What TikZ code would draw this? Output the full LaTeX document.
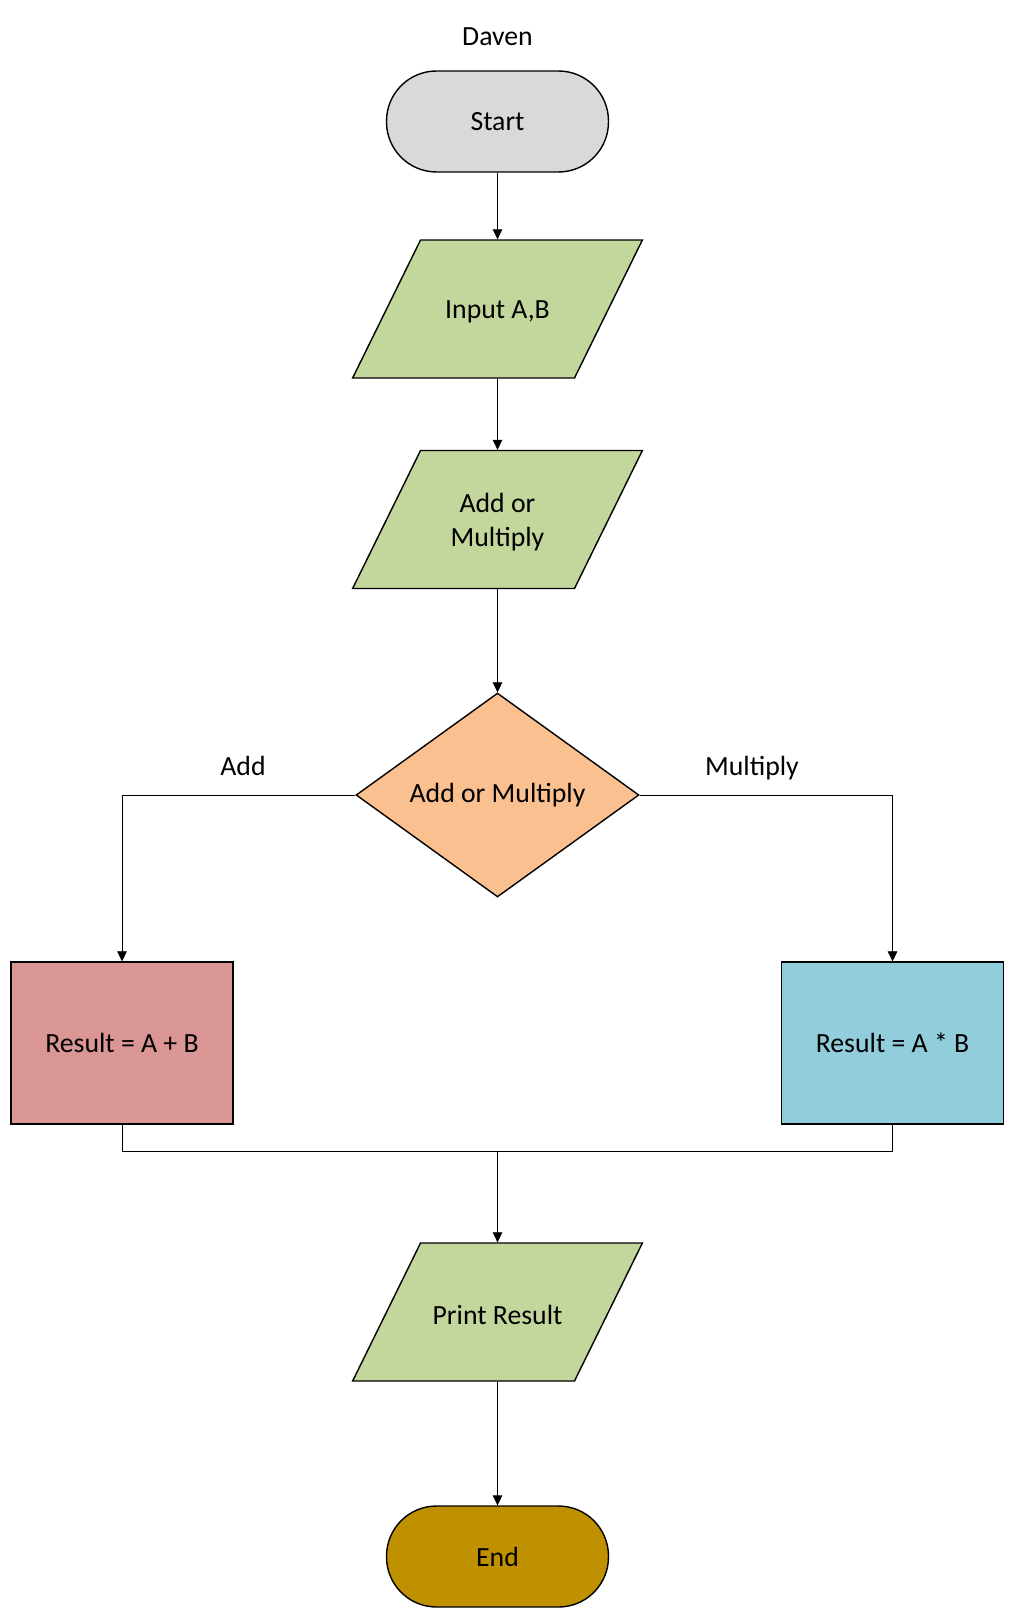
\documentclass[tikz,border=0pt]{standalone}
\usepackage{fontspec}
\setmainfont{Carlito}
\usepackage{xcolor}
\usetikzlibrary{shapes.geometric,arrows.meta}
\definecolor{startgray}{HTML}{D9D9D9}
\definecolor{iogreen}{HTML}{C3D69B}
\definecolor{choiceorange}{HTML}{FAC090}
\definecolor{addred}{HTML}{D99694}
\definecolor{mulblue}{HTML}{92CDDC}
\definecolor{endgold}{HTML}{BF9000}

\begin{document}
\begin{tikzpicture}[x=0.02cm, y=-0.02cm,
  every node/.style={font=\fontsize{15.8}{19.3}\selectfont, align=center},
  terminal/.style={draw, line width=0.8pt, rectangle, rounded corners=1cm, minimum width=4.44cm, minimum height=2.02cm},
  iobox/.style={draw, line width=0.8pt, fill=iogreen, trapezium, trapezium left angle=63.8, trapezium right angle=116.2, inner xsep=1.54cm, inner ysep=1.38cm, label={[yshift=-0.05cm]center:#1}},
  calcbox/.style={draw, line width=0.8pt, rectangle, minimum width=4.44cm, minimum height=3.24cm},
  arr/.style={line width=0.5pt, -{Triangle[length=5.7pt,width=5.5pt]}}]
\useasboundingbox (0,0) rectangle (1012,1618);
\node (title) at (497.5,37) {Daven};
\node[terminal, fill=startgray] (start) at (497.5,121.5) {Start};
\node[iobox={Input A,B}] (input) at (497.5,309) {};
\node[iobox={Add or\\Multiply}] (choose) at (497.5,519.5) {};
\node[draw, line width=0.8pt, diamond, fill=choiceorange, minimum width=5.66cm, minimum height=4.08cm, inner sep=0pt] (decide) at (497.5,795) {Add or Multiply};
\node[calcbox, fill=addred] (addres) at (122,1043) {Result = A + B};
\node[calcbox, fill=mulblue] (mulres) at (892.5,1043) {Result = A * B};
\node[iobox={Print Result}] (print) at (497.5,1312) {};
\node[terminal, fill=endgold] (finish) at (497.5,1556.5) {End};
\node[anchor=base] (addlbl) at (243,775) {Add};
\node[anchor=base] (mullbl) at (752,775) {Multiply};
\coordinate (join) at (497.5,1151);
\draw[arr] (start) -- (input);
\draw[arr] (input) -- (choose);
\draw[arr] (choose) -- (decide);
\draw[arr] (decide.west) -| (addres.north);
\draw[arr] (decide.east) -| (mulres.north);
\draw[line width=0.5pt] (addres.south) |- (join) -| (mulres.south);
\draw[arr] (join) -- (print);
\draw[arr] (print) -- (finish);
\end{tikzpicture}
\end{document}
